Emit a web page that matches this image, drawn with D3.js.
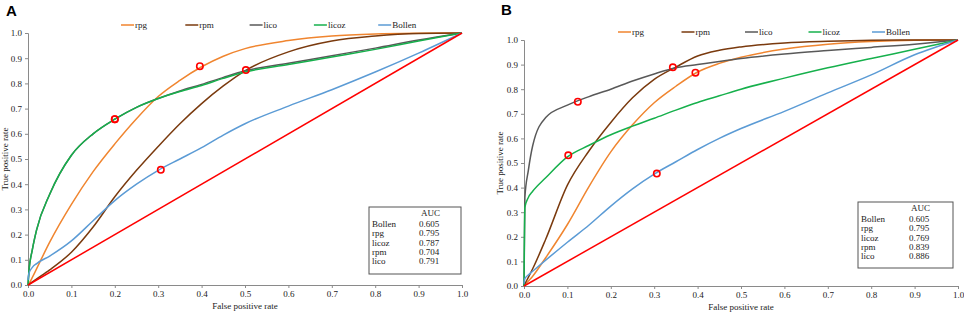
<!DOCTYPE html>
<html>
<head>
<meta charset="utf-8">
<script src="https://cdn.jsdelivr.net/npm/d3@7"></script>
<style>
  body { margin: 0; background: #fff; }
  svg { display: block; }
  .tick text { font-family: "Liberation Serif", "Times New Roman", serif; font-size: 9px; fill: #222; }
  .lbl { font-family: "Liberation Serif", "Times New Roman", serif; font-size: 9px; fill: #222; }
</style>
</head>
<body>
<svg id="chart" width="964" height="313"></svg>
<script>
// shared false positive rate grid
const fprGrid = [0, 0.002, 0.01, 0.02, 0.05, 0.1, 0.15, 0.2, 0.25, 0.3, 0.35, 0.4, 0.45, 0.5, 0.6, 0.7, 0.8, 0.9, 1];

// panel A true positive rates
const rpgA    = [0, 0.005, 0.03, 0.065, 0.17, 0.32, 0.45, 0.56, 0.66, 0.748, 0.812, 0.866, 0.908, 0.938, 0.97, 0.988, 0.996, 0.999, 1];
const rpmA    = [0, 0.002, 0.012, 0.024, 0.06, 0.13, 0.23, 0.35, 0.455, 0.55, 0.64, 0.72, 0.79, 0.85, 0.925, 0.968, 0.988, 0.998, 1];
const licoA   = [0, 0.05, 0.14, 0.22, 0.36, 0.515, 0.6, 0.658, 0.705, 0.74, 0.77, 0.796, 0.824, 0.85, 0.88, 0.91, 0.94, 0.972, 1];
const licozA  = [0, 0.05, 0.14, 0.22, 0.36, 0.515, 0.6, 0.658, 0.705, 0.74, 0.768, 0.792, 0.82, 0.845, 0.875, 0.905, 0.935, 0.968, 1];
const bollenA = [0.02, 0.045, 0.07, 0.085, 0.115, 0.175, 0.255, 0.335, 0.4, 0.455, 0.5, 0.545, 0.595, 0.64, 0.71, 0.775, 0.845, 0.92, 1];

// panel B true positive rates
const rpgB    = [0, 0.004, 0.02, 0.04, 0.115, 0.25, 0.405, 0.545, 0.655, 0.745, 0.812, 0.87, 0.905, 0.93, 0.963, 0.983, 0.994, 0.999, 1];
const rpmB    = [0, 0.008, 0.035, 0.07, 0.19, 0.41, 0.55, 0.665, 0.765, 0.84, 0.89, 0.935, 0.958, 0.972, 0.988, 0.995, 0.999, 1, 1];
const licoB   = [0, 0.36, 0.47, 0.57, 0.685, 0.735, 0.77, 0.8, 0.833, 0.862, 0.887, 0.9, 0.913, 0.925, 0.943, 0.957, 0.97, 0.983, 1];
const licozB  = [0, 0.32, 0.36, 0.385, 0.44, 0.525, 0.572, 0.615, 0.65, 0.682, 0.715, 0.746, 0.773, 0.8, 0.845, 0.887, 0.925, 0.962, 1];
const bollenB = [0.01, 0.03, 0.045, 0.06, 0.105, 0.178, 0.248, 0.325, 0.395, 0.455, 0.505, 0.555, 0.6, 0.64, 0.71, 0.785, 0.858, 0.94, 1];

// chance line
const diagFpr = [0, 1];
const diagTpr = [0, 1];

// series names / colours (legend order)
const seriesNames = ["rpg", "rpm", "lico", "licoz", "Bollen"];
const seriesColors = ["#F0852F", "#7A3A0E", "#595959", "#16B04C", "#5B9BD5"];

// cut-off markers
const markA = { series: ["rpg", "rpm", "lico", "licoz", "Bollen"], fpr: [0.396, 0.502, 0.2, 0.2, 0.306], tpr: [0.868, 0.853, 0.658, 0.658, 0.457] };
const markB = { series: ["rpg", "rpm", "lico", "licoz", "Bollen"], fpr: [0.395, 0.343, 0.124, 0.102, 0.306], tpr: [0.867, 0.889, 0.749, 0.531, 0.457] };

// AUC table
const aucNames = ["Bollen", "rpg", "licoz", "rpm", "lico"];
const aucA = [0.605, 0.795, 0.787, 0.704, 0.791];
const aucB = [0.605, 0.795, 0.769, 0.839, 0.886];

const ticks = d3.range(0, 1.01, 0.1);

const svg = d3.select("#chart");

function drawPanel(p) {
    const x = d3.scaleLinear().domain([0, 1]).range([p.left, p.right]);
    const y = d3.scaleLinear().domain([0, 1]).range([p.bottom, p.top]);
    const g = svg.append("g");

    // axes
    const xAxis = g.append("g")
        .attr("transform", `translate(0,${p.bottom})`)
        .call(d3.axisBottom(x).tickValues(ticks).tickFormat(d3.format(".1f")).tickSize(3).tickPadding(3));
    const yAxis = g.append("g")
        .attr("transform", `translate(${p.left},0)`)
        .call(d3.axisLeft(y).tickValues(ticks).tickFormat(d3.format(".1f")).tickSize(3).tickPadding(3));
    [xAxis, yAxis].forEach(a => {
        a.select(".domain").attr("stroke", "#8a8a8a");
        a.selectAll(".tick line").attr("stroke", "#8a8a8a");
    });

    g.append("text").attr("class", "lbl")
        .attr("x", (p.left + p.right) / 2).attr("y", p.xTitleY)
        .attr("text-anchor", "middle").text("False positive rate");
    g.append("text").attr("class", "lbl")
        .attr("transform", `translate(${p.yTitleX},${(p.top + p.bottom) / 2}) rotate(-90)`)
        .attr("text-anchor", "middle").text("True positive rate");

    // panel letter
    g.append("text")
        .attr("x", p.letterX).attr("y", p.letterY)
        .attr("font-family", "Liberation Sans, Arial, sans-serif")
        .attr("font-weight", "bold").attr("font-size", 15)
        .text(p.letter);

    const line = d3.line()
        .x(d => x(d[0])).y(d => y(d[1]))
        .curve(d3.curveMonotoneX);

    // ROC curves
    p.series.forEach((tpr, i) => {
        g.append("path")
            .datum(fprGrid.map((f, j) => [f, tpr[j]]))
            .attr("d", line)
            .attr("fill", "none")
            .attr("stroke", seriesColors[i])
            .attr("stroke-width", 1.5);
    });

    // diagonal
    g.append("path")
        .datum(diagFpr.map((f, j) => [f, diagTpr[j]]))
        .attr("d", d3.line().x(d => x(d[0])).y(d => y(d[1])))
        .attr("stroke", "#FF0000")
        .attr("stroke-width", 1.5);

    // markers
    p.marks.fpr.forEach((f, i) => {
        g.append("circle")
            .attr("cx", x(f)).attr("cy", y(p.marks.tpr[i]))
            .attr("r", 3.2)
            .attr("fill", "none")
            .attr("stroke", "#FF0000")
            .attr("stroke-width", 1.6);
    });

    // legend
    seriesNames.forEach((name, i) => {
        const lx = p.legendX + i * p.legendStep;
        g.append("line")
            .attr("x1", lx).attr("x2", lx + 13)
            .attr("y1", p.legendY).attr("y2", p.legendY)
            .attr("stroke", seriesColors[i]).attr("stroke-width", 1.5);
        g.append("text").attr("class", "lbl")
            .attr("x", lx + 14).attr("y", p.legendY + 3)
            .text(name);
    });

    // AUC box
    const b = p.box;
    g.append("rect")
        .attr("x", b.x).attr("y", b.y).attr("width", b.w).attr("height", b.h)
        .attr("fill", "#fff").attr("stroke", "#555").attr("stroke-width", 1);
    g.append("text").attr("class", "lbl")
        .attr("x", b.valX).attr("y", b.y + 9).text("AUC");
    aucNames.forEach((n, i) => {
        const ty = b.y + 20 + i * 9.3;
        g.append("text").attr("class", "lbl").attr("x", b.x + 3).attr("y", ty).text(n);
        g.append("text").attr("class", "lbl").attr("x", b.valX - 2).attr("y", ty).text(d3.format(".3f")(p.auc[i]));
    });
}

drawPanel({
    letter: "A", letterX: 6, letterY: 16,
    left: 28, right: 462, top: 33, bottom: 285,
    xTitleY: 309, yTitleX: 8,
    series: [rpgA, rpmA, licoA, licozA, bollenA],
    marks: markA,
    legendX: 121, legendStep: 64.3, legendY: 25,
    box: { x: 369, y: 207, w: 92, h: 67, valX: 421 },
    auc: aucA
});

drawPanel({
    letter: "B", letterX: 501, letterY: 15,
    left: 524, right: 958, top: 40, bottom: 286,
    xTitleY: 310, yTitleX: 503,
    series: [rpgB, rpmB, licoB, licozB, bollenB],
    marks: markB,
    legendX: 618, legendStep: 63.5, legendY: 32,
    box: { x: 858, y: 202, w: 95, h: 66, valX: 911 },
    auc: aucB
});
</script>
</body>
</html>
